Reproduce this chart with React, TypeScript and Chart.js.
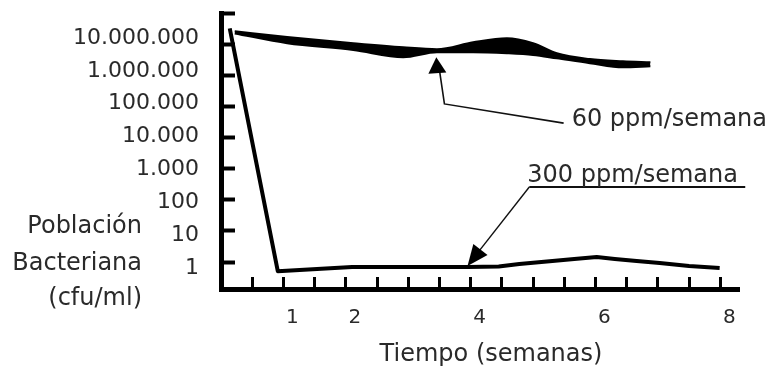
import React, { useEffect, useRef } from 'react';
import { Chart, registerables } from 'chart.js';

Chart.register(...registerables);

// ---- data (weeks on x, bacterial population cfu/ml on log y) ----
const WEEKS_300 = [0.14, 0.91, 2.1, 3.45, 3.95, 4.45, 4.78, 5.31, 5.66, 6.02, 6.31, 6.66, 7.03, 7.5, 7.99];
const VALUES_300 = [3.2e7, 0.51, 0.69, 0.69, 0.69, 0.72, 0.86, 1.07, 1.25, 1.45, 1.25, 1.07, 0.93, 0.74, 0.64];

const WEEKS_60 = [0.22, 1.06, 2.12, 2.92, 3.46, 4.04, 4.58, 5.0, 5.38, 5.91, 6.44, 6.88];
const UPPER_60 = [2.6e7, 1.7e7, 1.07e7, 7.9e6, 6.9e6, 1.15e7, 1.55e7, 1.07e7, 5.1e6, 3.3e6, 2.8e6, 2.6e6];
const LOWER_60 = [2.2e7, 1.07e7, 6.5e6, 3.8e6, 5.5e6, 5.5e6, 5.1e6, 4.5e6, 3.5e6, 2.45e6, 1.8e6, 1.95e6];

const X_TICKS = [0.5, 1, 1.5, 2, 2.5, 3, 3.5, 4, 4.5, 5, 5.5, 6, 6.5, 7, 7.5, 8];
const X_LABELED = [1, 2, 4, 6, 8];
const Y_TICKS = [1, 10, 100, 1e3, 1e4, 1e5, 1e6, 1e7, 1e8];
const Y_LABELED = [1, 10, 100, 1e3, 1e4, 1e5, 1e6, 1e7];

const LABEL_60 = '60 ppm/semana';
const LABEL_300 = '300 ppm/semana';
const Y_TITLE = ['Población', 'Bacteriana', '(cfu/ml)'];
const X_TITLE = 'Tiempo (semanas)';

// annotation anchors in data units (week, cfu/ml)
const ARROW_60_TIP = { x: 3.45, y: 3.8e6 };
const ARROW_60_BEND = { x: 3.58, y: 1.2e5 };
const ARROW_60_END = { x: 5.49, y: 2.9e4 };
const ARROW_300_TIP = { x: 3.95, y: 0.74 };
const ARROW_300_START = { x: 4.94, y: 257 };
const UNDERLINE_300_END_X = 8.4;

const FONT = '"DejaVu Sans", sans-serif';
const TEXT_COLOR = '#2a2a2a';

const fmt = (v: number) => String(Math.round(v)).replace(/\B(?=(\d{3})+(?!\d))/g, '.');

function arrowHead(ctx: CanvasRenderingContext2D, tip: { x: number; y: number }, from: { x: number; y: number }, len: number, half: number) {
  const dx = tip.x - from.x;
  const dy = tip.y - from.y;
  const d = Math.hypot(dx, dy) || 1;
  const ux = dx / d;
  const uy = dy / d;
  const bx = tip.x - ux * len;
  const by = tip.y - uy * len;
  ctx.beginPath();
  ctx.moveTo(tip.x, tip.y);
  ctx.lineTo(bx - uy * half, by + ux * half);
  ctx.lineTo(bx + uy * half, by - ux * half);
  ctx.closePath();
  ctx.fill();
}

const annotationPlugin = {
  id: 'schematicAnnotations',
  afterDraw(chart: any) {
    const { ctx, scales } = chart;
    const xs = scales.x;
    const ys = scales.y;
    const p = (pt: { x: number; y: number }) => ({ x: xs.getPixelForValue(pt.x), y: ys.getPixelForValue(pt.y) });
    ctx.save();
    ctx.strokeStyle = '#111';
    ctx.fillStyle = '#000';
    ctx.lineWidth = 1.6;

    // 60 ppm arrow
    const t60 = p(ARROW_60_TIP);
    const b60 = p(ARROW_60_BEND);
    const e60 = p(ARROW_60_END);
    ctx.beginPath();
    ctx.moveTo(e60.x, e60.y);
    ctx.lineTo(b60.x, b60.y);
    ctx.lineTo(t60.x + 3, t60.y + 12);
    ctx.stroke();
    arrowHead(ctx, t60, { x: t60.x + 2, y: t60.y + 30 }, 16, 9);

    // 300 ppm arrow + underline
    const t300 = p(ARROW_300_TIP);
    const s300 = p(ARROW_300_START);
    const uEnd = xs.getPixelForValue(UNDERLINE_300_END_X);
    ctx.lineWidth = 1.4;
    ctx.beginPath();
    ctx.moveTo(s300.x, s300.y);
    ctx.lineTo(t300.x + 6, t300.y - 8);
    ctx.stroke();
    ctx.lineWidth = 2.2;
    ctx.beginPath();
    ctx.moveTo(s300.x, s300.y);
    ctx.lineTo(uEnd, s300.y);
    ctx.stroke();
    arrowHead(ctx, t300, s300, 21, 9);

    // texts
    ctx.fillStyle = TEXT_COLOR;
    ctx.font = `24px ${FONT}`;
    ctx.textAlign = 'left';
    ctx.textBaseline = 'alphabetic';
    ctx.fillText(LABEL_60, e60.x + 8, e60.y + 3);
    ctx.fillText(LABEL_300, s300.x - 2, s300.y - 5);

    // y title (horizontal, right aligned)
    const left = chart.chartArea.left;
    ctx.textAlign = 'right';
    const baselines = [233, 270, 305];
    Y_TITLE.forEach((line, i) => ctx.fillText(line, left - 79, baselines[i]));

    // x title
    ctx.textAlign = 'center';
    ctx.fillText(X_TITLE, (chart.chartArea.left + chart.chartArea.right) / 2 + 11, 361);
    ctx.restore();
  },
};

export default function App() {
  const ref = useRef<HTMLCanvasElement | null>(null);

  useEffect(() => {
    document.body.style.margin = '0';
    const canvas = ref.current;
    if (!canvas) return;
    const chart = new Chart(canvas, {
      type: 'line',
      data: {
        datasets: [
          {
            label: '60 ppm/semana (máx)',
            data: WEEKS_60.map((x, i) => ({ x, y: UPPER_60[i] })),
            borderColor: '#000',
            borderWidth: 2,
            pointRadius: 0,
            cubicInterpolationMode: 'monotone',
            fill: false,
          },
          {
            label: '60 ppm/semana (mín)',
            data: WEEKS_60.map((x, i) => ({ x, y: LOWER_60[i] })),
            borderColor: '#000',
            backgroundColor: '#000',
            borderWidth: 2,
            pointRadius: 0,
            cubicInterpolationMode: 'monotone',
            fill: '-1',
          },
          {
            label: '300 ppm/semana',
            data: WEEKS_300.map((x, i) => ({ x, y: VALUES_300[i] })),
            borderColor: '#000',
            borderWidth: 4,
            pointRadius: 0,
            tension: 0,
            borderJoinStyle: 'round',
            fill: false,
          },
        ],
      },
      options: {
        animation: false,
        responsive: false,
        layout: { padding: { top: 13, right: 29, left: 0, bottom: 0 } },
        plugins: { legend: { display: false }, tooltip: { enabled: false } },
        scales: {
          x: {
            type: 'linear',
            min: 0,
            max: 8.3,
            afterBuildTicks: (scale: any) => {
              scale.ticks = X_TICKS.map((value) => ({ value }));
            },
            afterFit: (scale: any) => {
              scale.height = 81;
              scale.paddingLeft = 0;
              scale.paddingRight = 0;
            },
            border: { display: true, color: '#000', width: 5 },
            grid: { drawOnChartArea: false, drawTicks: true, tickLength: -12, tickWidth: 3, color: '#000' },
            ticks: {
              autoSkip: false,
              maxRotation: 0,
              padding: 29,
              labelOffset: 9,
              color: TEXT_COLOR,
              font: { family: FONT, size: 20 },
              callback: (v: any) => (X_LABELED.includes(Number(v)) ? String(v) : ''),
            },
          },
          // axis line + inward tick marks
          y: {
            type: 'logarithmic',
            position: 'left',
            weight: 0,
            min: 0.136,
            max: 1e8,
            afterBuildTicks: (scale: any) => {
              scale.ticks = Y_TICKS.map((value) => ({ value }));
            },
            afterFit: (scale: any) => {
              scale.width = 0;
              scale.paddingTop = 0;
              scale.paddingBottom = 0;
            },
            border: { display: true, color: '#000', width: 5 },
            grid: { drawOnChartArea: false, drawTicks: true, tickLength: -14, tickWidth: 4, color: '#000' },
            ticks: { display: false },
          },
          // tick labels, spaced as hand-lettered in the original
          yLabels: {
            type: 'logarithmic',
            position: 'left',
            weight: 1,
            min: 0.23,
            max: 5.8e7,
            afterBuildTicks: (scale: any) => {
              scale.ticks = Y_LABELED.map((value) => ({ value }));
            },
            afterFit: (scale: any) => {
              scale.width = 221;
              scale.paddingTop = 0;
              scale.paddingBottom = 0;
            },
            border: { display: false },
            grid: { display: false, drawTicks: false },
            ticks: {
              autoSkip: false,
              padding: 22,
              color: TEXT_COLOR,
              font: { family: FONT, size: 22 },
              callback: (v: any) => fmt(Number(v)),
            },
          },
        },
      },
      plugins: [annotationPlugin],
    } as any);
    return () => chart.destroy();
  }, []);

  return <canvas ref={ref} width={768} height={370} style={{ display: 'block', width: 768, height: 370 }} />;
}
